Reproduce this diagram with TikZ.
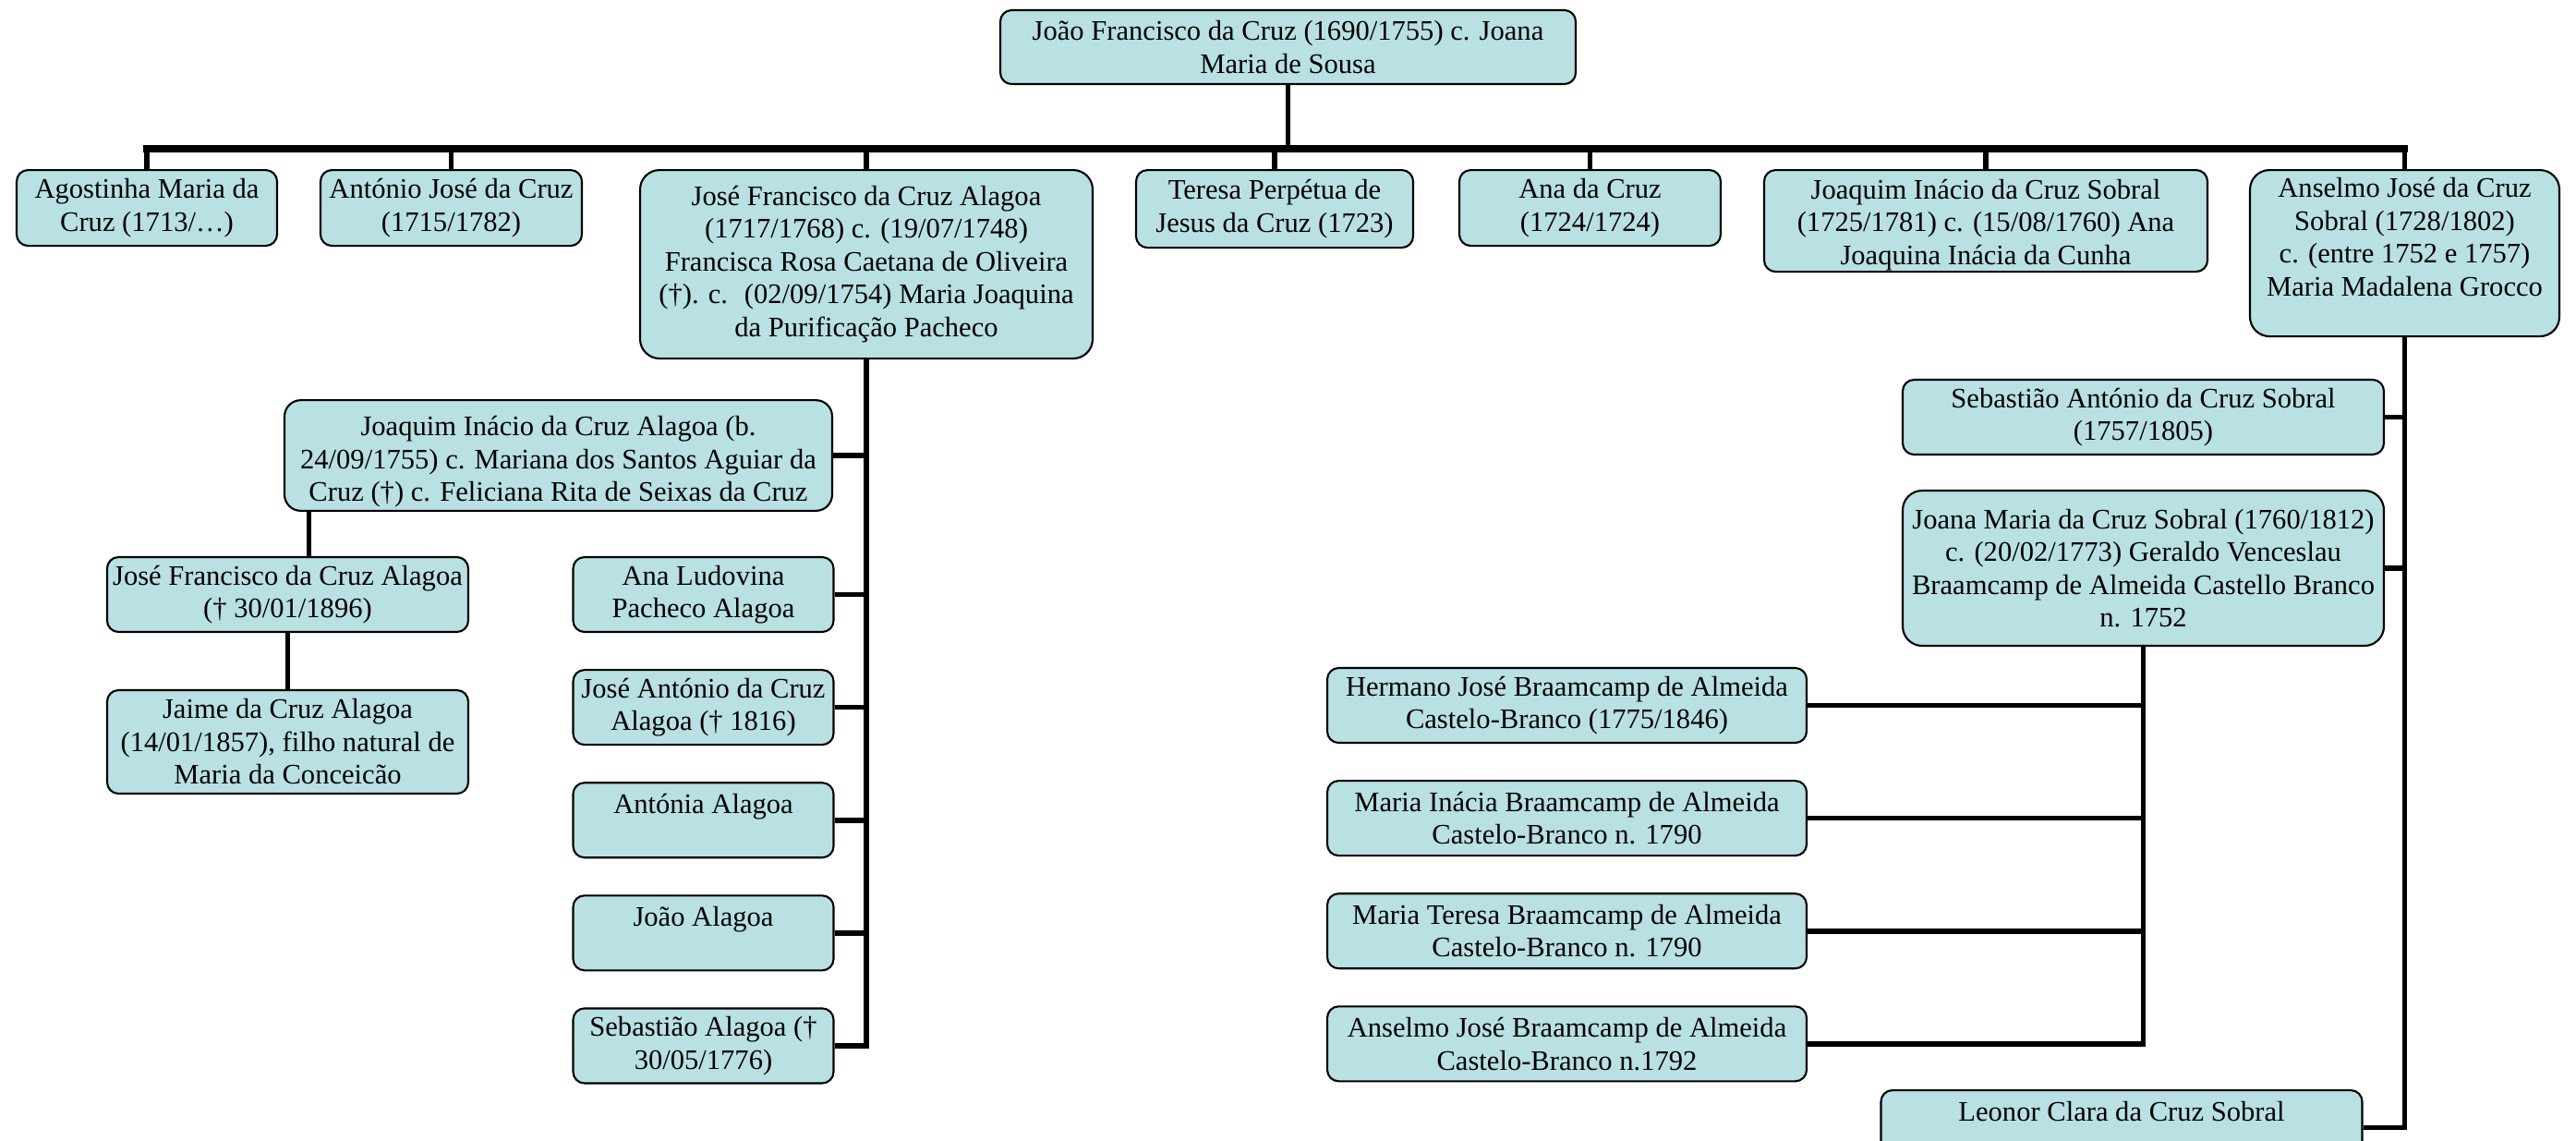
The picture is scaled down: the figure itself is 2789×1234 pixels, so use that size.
\documentclass[tikz,border=0pt]{standalone}
\usepackage{fontspec}
\setmainfont{Liberation Serif}
\usepackage{tikz}
\usetikzlibrary{positioning}
\definecolor{famfill}{HTML}{B9E0E3}
\tikzset{
  person/.style={rounded corners=3.5pt,draw=black,line width=0.6pt,fill=famfill,align=center,inner sep=1pt,font=\fontsize{8.7}{10.1}\selectfont,minimum height=8.1mm},
  tall/.style={person,rounded corners=6pt},
  bus/.style={draw=black,line width=2pt,line cap=rect},
  link/.style={draw=black,line width=1.6pt},
}
\begin{document}
\begin{tikzpicture}[x=0.1mm,y=-0.1mm,node distance=3.9mm]
  \path[use as bounding box,clip] (0,0) rectangle (2789,1234);
  \node[person,minimum width=62.3mm,minimum height=8mm] (root) at (1394.5,51) {João Francisco da Cruz (1690/1755) c. Joana\\Maria de Sousa};
  \coordinate (bus) at (1394,161);
  \node[person,anchor=north,minimum width=28.2mm,minimum height=8.2mm] (agostinha) at (159,183) {Agostinha Maria da\\Cruz (1713/…)};
  \node[person,anchor=north,minimum width=28.3mm,minimum height=8.2mm] (antonio) at (488.5,183) {António José da Cruz\\(1715/1782)};
  \node[tall,anchor=north,minimum width=49mm,minimum height=20.4mm] (josefrancisco) at (938,183) {José Francisco da Cruz Alagoa\\(1717/1768) c. (19/07/1748)\\Francisca Rosa Caetana de Oliveira\\(†). c.~ (02/09/1754) Maria Joaquina\\da Purificação Pacheco};
  \node[person,anchor=north,minimum width=30mm,minimum height=8.4mm] (teresa) at (1380,183) {Teresa Perpétua de\\Jesus da Cruz (1723)};
  \node[person,anchor=north,minimum width=28.3mm,minimum height=8.2mm] (ana) at (1721.5,183) {Ana da Cruz\\(1724/1724)};
  \node[person,anchor=north,minimum width=48mm,minimum height=11mm,inner ysep=0pt] (joaquimsobral) at (2150,183) {\rule{0pt}{8.5pt}Joaquim Inácio da Cruz Sobral\\(1725/1781) c. (15/08/1760) Ana\\Joaquina Inácia da Cunha};
  \node[tall,anchor=north,minimum width=33.5mm,minimum height=18mm] (anselmo) at (2603.5,183) {Anselmo José da Cruz\\Sobral (1728/1802)\\c. (entre 1752 e 1757)\\Maria Madalena Grocco\\\mbox{}};

  \node[person,minimum width=59.3mm,minimum height=11.8mm,rounded corners=5pt] (joaquimalagoa) at (604.5,493) {\rule{0pt}{10pt}Joaquim Inácio da Cruz Alagoa (b.\\24/09/1755) c. Mariana dos Santos Aguiar da\\Cruz (†) c. Feliciana Rita de Seixas da Cruz};
  \coordinate (jqdrop) at ([xshift=-27mm]joaquimalagoa.south);
  \node[person,minimum width=39.1mm] (jfson) at (311.5,643.5) {José Francisco da Cruz Alagoa\\(† 30/01/1896)};
  \node[person,minimum width=39.1mm,minimum height=11.2mm] (jaime) at (311.5,803) {Jaime da Cruz Alagoa\\(14/01/1857), filho natural de\\Maria da Conceicão};
  \node[person,minimum width=28.2mm] (analudovina) at (761.5,643.5) {Ana Ludovina\\Pacheco Alagoa};
  \node[person,minimum width=28.2mm,below=of analudovina] (josean) {José António da Cruz\\Alagoa († 1816)};
  \node[person,minimum width=28.2mm,below=of josean] (antonia) {Antónia Alagoa\\\mbox{}};
  \node[person,minimum width=28.2mm,below=of antonia] (joao) {João Alagoa\\\mbox{}};
  \node[person,minimum width=28.2mm,below=of joao] (sebalagoa) {Sebastião Alagoa (†\\30/05/1776)};

  \node[person,minimum width=52.1mm] (sebsobral) at (2320.5,451.5) {Sebastião António da Cruz Sobral\\(1757/1805)};
  \node[tall,minimum width=52.1mm,minimum height=16.8mm] (joana) at (2320.5,615) {Joana Maria da Cruz Sobral (1760/1812)\\c. (20/02/1773) Geraldo Venceslau\\Braamcamp de Almeida Castello Branco\\n. 1752};
  \node[person,minimum width=51.9mm] (hermano) at (1696.5,763.5) {Hermano José Braamcamp de Almeida\\Castelo-Branco (1775/1846)};
  \node[person,minimum width=51.9mm,below=of hermano] (mariainacia) {Maria Inácia Braamcamp de Almeida\\Castelo-Branco n. 1790};
  \node[person,minimum width=51.9mm,below=of mariainacia] (mariateresa) {Maria Teresa Braamcamp de Almeida\\Castelo-Branco n. 1790};
  \node[person,minimum width=51.9mm,below=of mariateresa] (anselmojr) {Anselmo José Braamcamp de Almeida\\Castelo-Branco n.1792};
  \node[person,anchor=north,minimum width=52.1mm] (leonor) at (2297,1179) {Leonor Clara da Cruz Sobral\\\mbox{}};

  \draw[link] (root.south) -- (root |- bus);
  \draw[bus] (agostinha |- bus) -- (anselmo |- bus);
  \foreach \kid in {agostinha,antonio,josefrancisco,teresa,ana,joaquimsobral,anselmo}
    \draw[link] (\kid |- bus) -- (\kid.north);

  \draw[link] (josefrancisco.south) |- (sebalagoa.east);
  \foreach \kid in {joaquimalagoa,analudovina,josean,antonia,joao}
    \draw[link] (\kid.east) -- (\kid.east -| josefrancisco.south);
  \draw[link] (jqdrop) -- (jqdrop |- jfson.north);
  \draw[link] (jfson) -- (jaime);

  \draw[link] (anselmo.south) |- (leonor.east);
  \foreach \kid in {sebsobral,joana}
    \draw[link] (\kid.east) -- (\kid.east -| anselmo.south);
  \draw[link] (joana.south) |- (anselmojr.east);
  \foreach \kid in {hermano,mariainacia,mariateresa}
    \draw[link] (\kid.east) -- (\kid.east -| joana.south);
\end{tikzpicture}
\end{document}
